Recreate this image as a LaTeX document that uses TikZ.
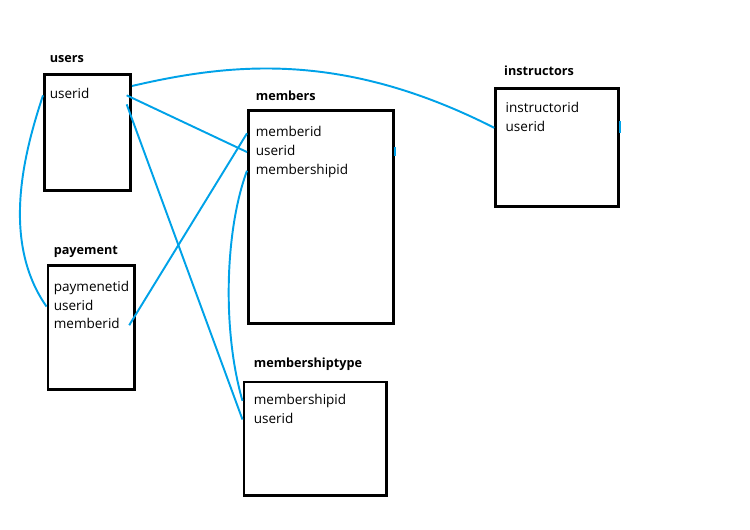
\documentclass[tikz,border=0pt]{standalone}
\usepackage{fontspec}
\setmainfont{Open Sans}
\usetikzlibrary{positioning}
\definecolor{linkblue}{RGB}{0,162,232}
\tikzset{
  tbl/.style={draw, line width=1.7pt, anchor=north west, inner sep=0pt},
  ttl/.style={font=\fontsize{7.2}{9}\selectfont\bfseries, inner sep=0pt},
  fld/.style={font=\fontsize{7.7}{9}\selectfont, inner sep=0pt, minimum height=0.36cm, text height=6pt, text depth=2pt, text width=#1, align=left},
  fld/.default=2.4cm,
  rel/.style={draw=linkblue, line width=1.1pt}
}

\begin{document}
\begin{tikzpicture}[x=0.02cm, y=-0.02cm]
    \useasboundingbox (0,0) rectangle (750,530);

        % Tables
        \node (users) [tbl, minimum width=1.72cm, minimum height=2.32cm] at (43,73) {};
        \node (members) [tbl, minimum width=2.9cm, minimum height=4.26cm] at (247,109) {};
        \node (instr) [tbl, minimum width=2.45cm, minimum height=2.35cm] at (494.3,87.3) {};
        \node (pay) [tbl, minimum width=1.74cm, minimum height=2.49cm] at (46.5,264) {};
        \node (mtype) [tbl, minimum width=2.86cm, minimum height=2.28cm] at (242.5,380.5) {};

        % Table names
        \node (tUsers) [ttl, above right=0.2cm and 0.13cm of users.north west, anchor=base west] {users};
        \node (tMembers) [ttl, above right=0.16cm and 0.17cm of members.north west, anchor=base west] {members};
        \node (tInstr) [ttl, above right=0.23cm and 0.19cm of instr.north west, anchor=base west] {instructors};
        \node (tPay) [ttl, above right=0.2cm and 0.14cm of pay.north west, anchor=base west] {payement};
        \node (tMtype) [ttl, above right=0.26cm and 0.22cm of mtype.north west, anchor=base west] {membershiptype};

        % Fields
        \node (uUid) [fld=1.53cm, below right=0.26cm and 0.13cm of users.north west] {userid};

        \node (mMid) [fld=2.6cm, below right=0.3cm and 0.17cm of members.north west] {memberid};
        \node (mUid) [fld=2.6cm, below=0cm of mMid] {userid};
        \node (mMsid) [fld=2.6cm, below=0cm of mUid] {membershipid};

        \node (iIid) [fld=2.1cm, below right=0.25cm and 0.22cm of instr.north west] {instructorid};
        \node (iUid) [fld=2.1cm, below=0cm of iIid] {userid};

        \node (pPid) [fld=1.5cm, below right=0.29cm and 0.14cm of pay.north west] {paymenetid};
        \node (pUid) [fld=1.5cm, below=0cm of pPid] {userid};
        \node (pMid) [fld=1.5cm, below=0cm of pUid] {memberid};

        \node (mtMsid) [fld=2.5cm, below right=0.22cm and 0.22cm of mtype.north west] {membershipid};
        \node (mtUid) [fld=2.5cm, below=0cm of mtMsid] {userid};

        % Links
        \coordinate (uTop) at ([yshift=-0.26cm]users.north east);
        \coordinate (uLow) at ([yshift=-0.18cm]uUid.east);
        \draw[rel] (users.west |- uUid) .. controls (25,150) and (0,240) .. (pay.west |- pUid);
        \draw[rel] (uTop) .. controls (235,62) and (345,52) .. (instr.west |- iUid);
        \draw[rel] (uUid.east) -- (members.west |- mUid);
        \draw[rel] (uLow) -- (mtype.west |- mtUid);
        \draw[rel] (pMid.east) -- (members.west |- mMid);
        \draw[rel] (members.west |- mMsid) .. controls (225,230) and (222,330) .. (mtype.west |- mtMsid);

        % Loose ends
        \coordinate (mTick) at (members.east |- mUid);
        \coordinate (iTick) at (instr.east |- iUid);
        \draw[rel] ([yshift=0.1cm]mTick) -- ([yshift=-0.08cm]mTick);
        \draw[rel] ([yshift=0.14cm]iTick) -- ([yshift=-0.1cm]iTick);

\end{tikzpicture}
\end{document}
